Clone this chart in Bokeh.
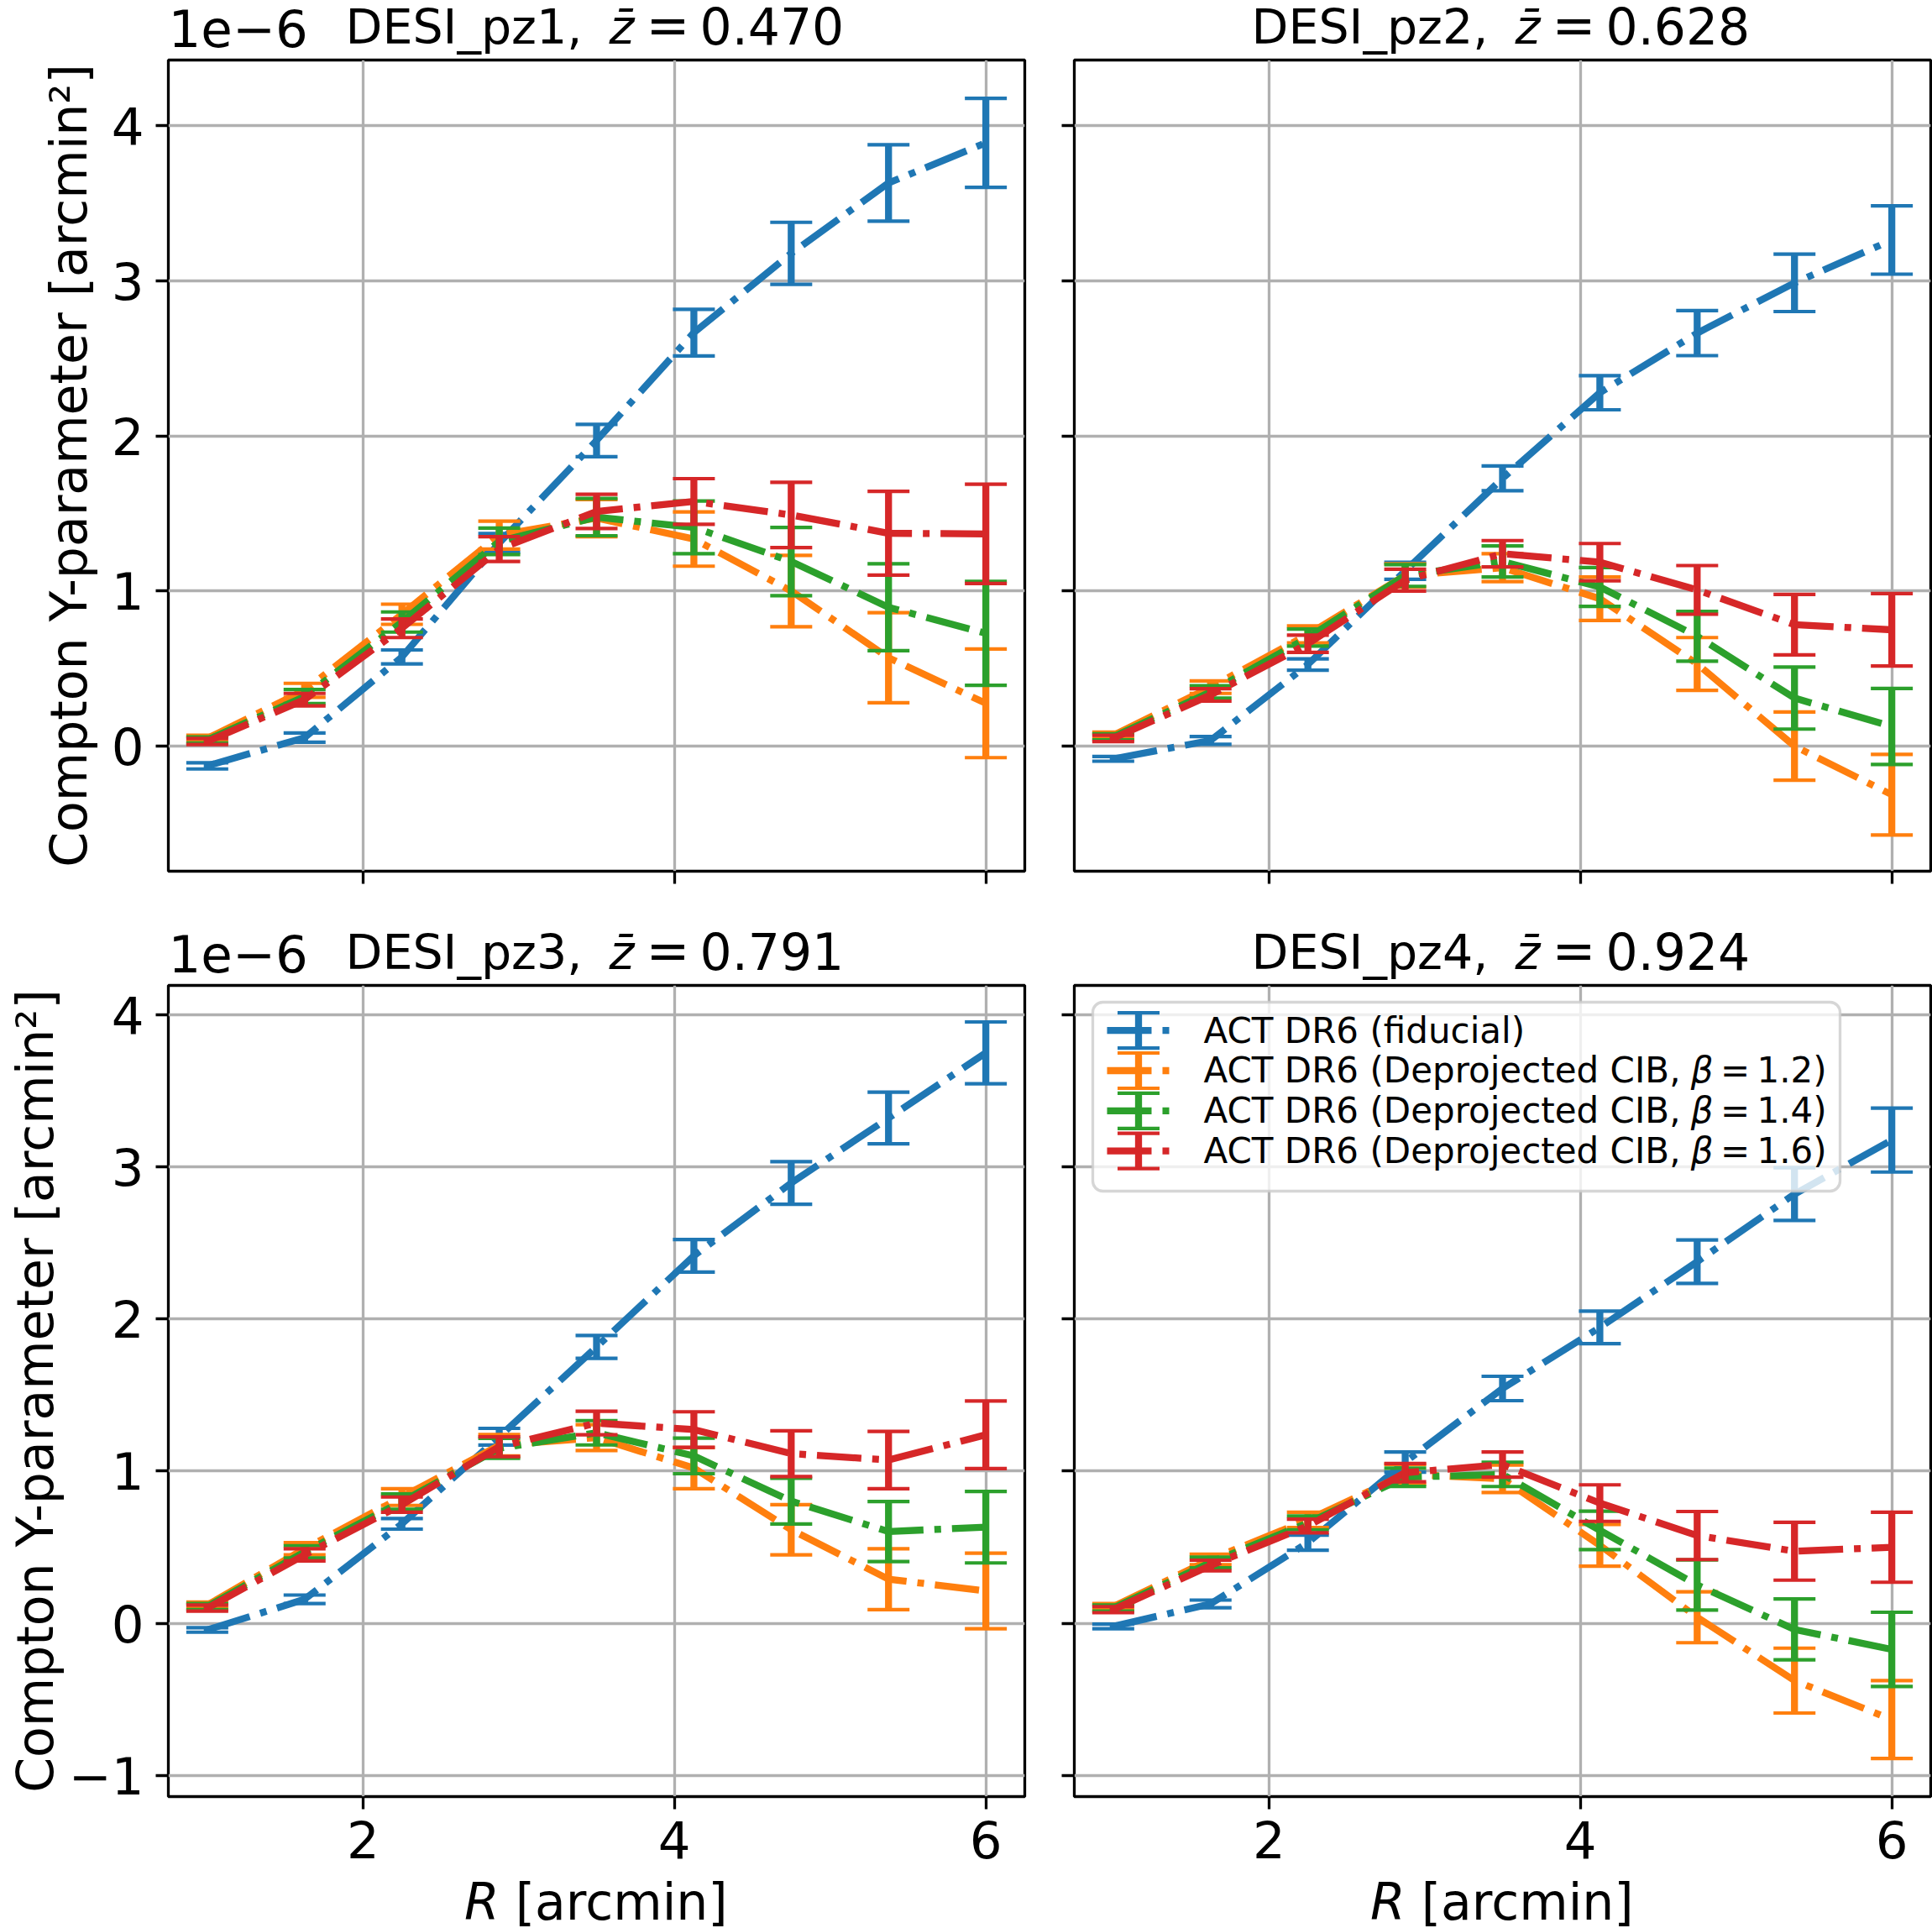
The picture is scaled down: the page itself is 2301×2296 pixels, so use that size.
from bokeh.embed import file_html
from bokeh.layouts import column, row
from bokeh.models import (BoxAnnotation, CustomLabelingPolicy, FixedTicker,
                          Label, Range1d)
from bokeh.plotting import figure
from bokeh.resources import INLINE

# ---------------------------------------------------------------------------
# Data: stacked Compton-Y profiles (units of 1e-6 arcmin^2) per photo-z bin
# ---------------------------------------------------------------------------
R = [1.0, 1.625, 2.25, 2.875, 3.5, 4.125, 4.75, 5.375, 6.0]  # arcmin

bin_names = ["DESI_pz1", "DESI_pz2", "DESI_pz3", "DESI_pz4"]
bin_zbar = ["0.470", "0.628", "0.791", "0.924"]

series_labels = ["ACT DR6 (fiducial)",
                 "ACT DR6 (Deprojected CIB, β = 1.2)",
                 "ACT DR6 (Deprojected CIB, β = 1.4)",
                 "ACT DR6 (Deprojected CIB, β = 1.6)"]
series_beta = [None, "1.2", "1.4", "1.6"]

# DESI_pz1
pz1_fid = [-0.127, 0.055, 0.575, 1.31, 1.97, 2.665, 3.176, 3.63, 3.888]
pz1_fid_err = [0.02, 0.03, 0.045, 0.06, 0.104, 0.15, 0.2, 0.246, 0.287]
pz1_b12 = [0.05, 0.36, 0.85, 1.36, 1.47, 1.335, 1.0, 0.57, 0.276]
pz1_b12_err = [0.02, 0.045, 0.065, 0.09, 0.12, 0.175, 0.23, 0.29, 0.35]
pz1_b14 = [0.04, 0.32, 0.80, 1.32, 1.476, 1.41, 1.19, 0.895, 0.727]
pz1_b14_err = [0.02, 0.045, 0.065, 0.085, 0.12, 0.17, 0.22, 0.28, 0.335]
pz1_b16 = [0.03, 0.30, 0.76, 1.27, 1.513, 1.577, 1.49, 1.372, 1.368]
pz1_b16_err = [0.02, 0.04, 0.06, 0.08, 0.11, 0.147, 0.21, 0.27, 0.32]

# DESI_pz2
pz2_fid = [-0.082, 0.037, 0.526, 1.13, 1.726, 2.278, 2.662, 2.986, 3.262]
pz2_fid_err = [0.015, 0.025, 0.037, 0.055, 0.08, 0.11, 0.145, 0.185, 0.22]
pz2_b12 = [0.07, 0.38, 0.72, 1.10, 1.15, 0.95, 0.53, 0.0, -0.313]
pz2_b12_err = [0.02, 0.04, 0.055, 0.075, 0.09, 0.14, 0.17, 0.22, 0.26]
pz2_b14 = [0.06, 0.35, 0.70, 1.10, 1.19, 1.026, 0.708, 0.31, 0.127]
pz2_b14_err = [0.02, 0.04, 0.055, 0.07, 0.1, 0.125, 0.16, 0.2, 0.245]
pz2_b16 = [0.05, 0.33, 0.66, 1.07, 1.24, 1.186, 1.007, 0.783, 0.75]
pz2_b16_err = [0.02, 0.04, 0.055, 0.07, 0.085, 0.12, 0.157, 0.195, 0.233]

# DESI_pz3
pz3_fid = [-0.043, 0.158, 0.654, 1.226, 1.816, 2.415, 2.893, 3.32, 3.748]
pz3_fid_err = [0.015, 0.028, 0.035, 0.055, 0.075, 0.107, 0.14, 0.17, 0.203]
pz3_b12 = [0.12, 0.49, 0.83, 1.17, 1.22, 1.02, 0.615, 0.29, 0.213]
pz3_b12_err = [0.02, 0.04, 0.055, 0.07, 0.085, 0.135, 0.165, 0.2, 0.248]
pz3_b14 = [0.11, 0.47, 0.80, 1.15, 1.252, 1.10, 0.803, 0.603, 0.632]
pz3_b14_err = [0.02, 0.04, 0.05, 0.065, 0.08, 0.117, 0.15, 0.197, 0.235]
pz3_b16 = [0.10, 0.45, 0.78, 1.16, 1.316, 1.273, 1.115, 1.073, 1.239]
pz3_b16_err = [0.02, 0.04, 0.05, 0.065, 0.077, 0.117, 0.15, 0.188, 0.222]

# DESI_pz4
pz4_fid = [-0.02, 0.128, 0.53, 1.06, 1.543, 1.944, 2.376, 2.82, 3.175]
pz4_fid_err = [0.015, 0.025, 0.05, 0.066, 0.08, 0.107, 0.143, 0.173, 0.21]
pz4_b12 = [0.11, 0.42, 0.68, 0.98, 0.95, 0.513, 0.04, -0.376, -0.632]
pz4_b12_err = [0.02, 0.035, 0.05, 0.065, 0.09, 0.137, 0.167, 0.213, 0.256]
pz4_b14 = [0.10, 0.40, 0.66, 0.96, 0.979, 0.611, 0.252, -0.04, -0.171]
pz4_b14_err = [0.02, 0.035, 0.045, 0.06, 0.08, 0.126, 0.165, 0.2, 0.244]
pz4_b16 = [0.09, 0.38, 0.64, 0.99, 1.043, 0.79, 0.577, 0.474, 0.5]
pz4_b16_err = [0.02, 0.035, 0.045, 0.06, 0.083, 0.12, 0.158, 0.19, 0.23]

profiles = [
    [(pz1_fid, pz1_fid_err), (pz1_b12, pz1_b12_err), (pz1_b14, pz1_b14_err), (pz1_b16, pz1_b16_err)],
    [(pz2_fid, pz2_fid_err), (pz2_b12, pz2_b12_err), (pz2_b14, pz2_b14_err), (pz2_b16, pz2_b16_err)],
    [(pz3_fid, pz3_fid_err), (pz3_b12, pz3_b12_err), (pz3_b14, pz3_b14_err), (pz3_b16, pz3_b16_err)],
    [(pz4_fid, pz4_fid_err), (pz4_b12, pz4_b12_err), (pz4_b14, pz4_b14_err), (pz4_b16, pz4_b16_err)],
]

x_ticks = [2, 4, 6]
y_ticks_top = [0, 1, 2, 3, 4]
y_ticks_bottom = [-1, 0, 1, 2, 3, 4]

# ---------------------------------------------------------------------------
# Styling / geometry (page pixels)
# ---------------------------------------------------------------------------
COLORS = ["#1f77b4", "#ff7f0e", "#2ca02c", "#d62728"]
FONT = "DejaVu Sans"
LW = 8.3             # data line / error bar width
CAP_LW = 4.2         # cap line width
DASH = "53 13 8 13"  # dash-dot
CAP = 50             # error-bar cap width
SPINE = 3.3
GRID_COLOR = "#b0b0b0"

FRAME_W, FRAME_H = 1020, 966
X_LO, X_HI = 0.75, 6.25
Y_RANGES = [(-0.806, 4.422), (-1.138, 4.191)]

HEAD_H = [69, 94]               # title strip above each panel row
PANEL_TB = [(2, 40), (2, 100)]  # panel top / bottom borders
FOOT_H = 57
COL_W = [1250, 1051]
COL_PAD = [(200, 30), (29, 2)]
YLABEL_STANDOFF = [13, 2]

TICK_PX = 61
LABEL_PX = 60
TITLE_PX = 57
LEGEND_PX = 42
BASE_SHIFT = 0.36          # em: lift so that y marks the alphabetic baseline

# DejaVu Sans advance widths (em) for positioning multi-style text runs
ADV = {" ": 0.318, "(": 0.390, ")": 0.390, ",": 0.318, ".": 0.318, "=": 0.838,
       "[": 0.390, "]": 0.390, "_": 0.500, "-": 0.361, "β": 0.640, "\u0304": 0.0,
       "A": 0.684, "B": 0.686, "C": 0.698, "D": 0.770, "E": 0.632, "I": 0.295,
       "R": 0.695, "S": 0.635, "T": 0.611, "Y": 0.611,
       "a": 0.613, "c": 0.550, "d": 0.635, "e": 0.615, "f": 0.352, "i": 0.278,
       "j": 0.278, "l": 0.278, "m": 0.974, "n": 0.634, "o": 0.612, "p": 0.635,
       "r": 0.411, "t": 0.392, "u": 0.634, "z": 0.525}
for d in "0123456789":
    ADV[d] = 0.636

HIDE_LABELS = "for (const i of indices) indices.unset(i)"


def text_w(s, size):
    return sum(ADV.get(ch, 0.6) for ch in s) * size


def runs_width(runs, size):
    return sum(gap * size + text_w(t, size) for t, _, gap in runs)


def panel_h(rw):
    return PANEL_TB[rw][0] + FRAME_H + PANEL_TB[rw][1]


def row_top(rw):
    """Page y of the top of the header strip of panel row rw."""
    return sum(HEAD_H[:rw]) + sum(panel_h(r) for r in range(rw))


def panel_geom(col, rw):
    fl = sum(COL_W[:col]) + COL_PAD[col][0]
    ft = row_top(rw) + HEAD_H[rw] + PANEL_TB[rw][0]
    return fl, ft


class Canvas:
    """A figure plus its frame's page origin, for placing text in page px."""

    def __init__(self, fig, left, top, height):
        self.fig, self.left, self.top, self.height = fig, left, top, height

    def text(self, px, py, text, size, style="normal", align="left",
             level="annotation"):
        self.fig.add_layout(Label(
            x=px - self.left, y=self.top + self.height - py + BASE_SHIFT * size,
            x_units="screen", y_units="screen", text=text,
            text_font=FONT, text_font_size=f"{size}px", text_font_style=style,
            text_color="black", text_align=align, text_baseline="alphabetic",
            level=level))

    def runs(self, x0, py, runs, size, level="annotation"):
        x = x0
        for t, style, gap in runs:
            x += gap * size
            self.text(x, py, t, size, style=style, level=level)
            x += text_w(t, size)


def blank(width, height):
    f = figure(width=width, height=height, x_range=Range1d(0, 1),
               y_range=Range1d(0, 1), x_axis_location=None,
               y_axis_location=None, min_border=0, output_backend="svg",
               toolbar_location=None, title=None)
    f.outline_line_color = None
    f.grid.visible = False
    f.background_fill_color = "white"
    f.border_fill_color = "white"
    return f


def make_panel(idx):
    col, rw = idx % 2, idx // 2
    fl, ft = panel_geom(col, rw)
    ylo, yhi = Y_RANGES[rw]
    p = figure(width=COL_W[col], height=panel_h(rw),
               x_range=Range1d(X_LO, X_HI), y_range=Range1d(ylo, yhi),
               min_border_left=COL_PAD[col][0], min_border_right=COL_PAD[col][1],
               min_border_top=PANEL_TB[rw][0], min_border_bottom=PANEL_TB[rw][1],
               output_backend="svg", toolbar_location=None, title=None)
    p.background_fill_color = "white"
    p.border_fill_color = "white"
    p.outline_line_color = "black"
    p.outline_line_width = SPINE
    p.outline_line_alpha = 1.0

    p.xaxis.ticker = FixedTicker(ticks=x_ticks)
    p.yaxis.ticker = FixedTicker(ticks=y_ticks_top if rw == 0 else y_ticks_bottom)
    for ax in (p.xaxis[0], p.yaxis[0]):
        ax.axis_line_color = None
        ax.major_tick_in = 0
        ax.major_tick_out = 15
        ax.major_tick_line_width = SPINE
        ax.major_tick_line_color = "black"
        ax.minor_tick_line_color = None
        ax.major_label_text_font = FONT
        ax.major_label_text_font_size = f"{TICK_PX}px"
        ax.major_label_text_color = "black"
    p.xaxis.major_label_standoff = 13
    p.yaxis.major_label_standoff = 14
    p.yaxis.major_label_overrides = {-1: "\u22121"}
    if col == 0:
        p.yaxis.axis_label = "Compton Y-parameter [arcmin²]"
        p.yaxis.axis_label_text_font = FONT
        p.yaxis.axis_label_text_font_size = f"{LABEL_PX}px"
        p.yaxis.axis_label_text_font_style = "normal"
        p.yaxis.axis_label_text_color = "black"
        p.yaxis.axis_label_standoff = YLABEL_STANDOFF[rw]
    # shared axes: inner panels keep tick marks but no numbers
    if rw == 0:
        p.xaxis.major_label_policy = CustomLabelingPolicy(code=HIDE_LABELS)
        p.xaxis.major_label_text_font_size = "1px"
        p.xaxis.major_label_standoff = 0
    if col == 1:
        p.yaxis.major_label_policy = CustomLabelingPolicy(code=HIDE_LABELS)
        p.yaxis.major_label_text_font_size = "1px"
        p.yaxis.major_label_standoff = 0

    for g in (p.xgrid[0], p.ygrid[0]):
        g.grid_line_color = GRID_COLOR
        g.grid_line_width = SPINE

    for (vals, errs), color in zip(profiles[idx], COLORS):
        lo = [v - e for v, e in zip(vals, errs)]
        hi = [v + e for v, e in zip(vals, errs)]
        p.line(R, vals, line_color=color, line_width=LW, line_dash=DASH,
               line_join="round")
        p.segment(x0=R, y0=lo, x1=R, y1=hi, line_color=color, line_width=LW)
        p.scatter(R + R, lo + hi, marker="dash", size=CAP, line_color=color,
                  line_width=CAP_LW, fill_color=None)

    if idx == 3:
        draw_legend(p, fl, ft, ylo, yhi)
    return p


def draw_legend(p, fl, ft, ylo, yhi):
    def dx(px):
        return X_LO + (px - fl) * (X_HI - X_LO) / FRAME_W

    def dy(py):
        return yhi - (py - ft) * (yhi - ylo) / FRAME_H

    cv = Canvas(p, fl, ft, FRAME_H)
    left, right, top, bottom = 1301, 2191, 1193, 1418
    p.add_layout(BoxAnnotation(left=dx(left), right=dx(right),
                               top=dy(top), bottom=dy(bottom),
                               fill_color="white", fill_alpha=0.8,
                               line_color="#cccccc", line_alpha=0.8,
                               line_width=SPINE, border_radius=12,
                               level="annotation"))
    h0, h1, hmid = 1318, 1393, 1355.5
    text_x = 1433
    base0, step = 1241.7, 47.8
    for k, (label, beta, color) in enumerate(zip(series_labels, series_beta, COLORS)):
        base = base0 + k * step
        yc = base - 15
        p.line([dx(h0), dx(h1)], [dy(yc), dy(yc)], line_color=color,
               line_width=LW, line_dash=DASH, level="overlay")
        p.segment(x0=[dx(hmid)], y0=[dy(yc - 21)], x1=[dx(hmid)],
                  y1=[dy(yc + 21)], line_color=color, line_width=LW,
                  level="overlay")
        p.scatter([dx(hmid)] * 2, [dy(yc - 21), dy(yc + 21)], marker="dash",
                  size=CAP, line_color=color, line_width=CAP_LW,
                  level="overlay")
        if beta is None:
            runs = [(label, "normal", 0.0)]
        else:
            runs = [("ACT DR6 (Deprojected CIB,", "normal", 0.0),
                    ("β", "italic", 0.25),
                    ("=", "normal", 0.20),
                    (beta + ")", "normal", 0.20)]
        cv.runs(text_x, base, runs, LEGEND_PX, level="overlay")


def make_header(idx):
    col, rw = idx % 2, idx // 2
    fl, ft = panel_geom(col, rw)
    f = blank(COL_W[col], HEAD_H[rw])
    cv = Canvas(f, sum(COL_W[:col]), row_top(rw), HEAD_H[rw])
    cx = fl + FRAME_W / 2
    base = ft - 19
    # "DESI_pzN, z̄ = ..." : plain text, italic z-bar, then the math part
    cv.text(cx - 299, base, bin_names[idx] + ",", TITLE_PX)
    cv.text(cx + 15, base, "z\u0304", TITLE_PX, style="italic")
    cv.text(cx + 59, base, "=", 62)
    cv.text(cx + 123, base, bin_zbar[idx], 60)
    if col == 0:
        cv.text(fl, ft - 16.5, "1e\u22126", TICK_PX)
    return f


def make_footer(col):
    fl, _ = panel_geom(col, 1)
    f = blank(COL_W[col], FOOT_H)
    top = row_top(1) + HEAD_H[1] + panel_h(1)
    cv = Canvas(f, sum(COL_W[:col]), top, FOOT_H)
    runs = [("R", "italic", 0.0), ("[arcmin]", "normal", 0.318)]
    xw = runs_width(runs, LABEL_PX)
    cv.runs(fl + FRAME_W / 2 - xw / 2, top + FOOT_H - 10, runs, LABEL_PX)
    return f


panels = [make_panel(i) for i in range(4)]
layout = column(
    row(make_header(0), make_header(1)),
    row(panels[0], panels[1]),
    row(make_header(2), make_header(3)),
    row(panels[2], panels[3]),
    row(make_footer(0), make_footer(1)),
)

with open("out.html", "w") as fh:
    fh.write(file_html(layout, INLINE))
